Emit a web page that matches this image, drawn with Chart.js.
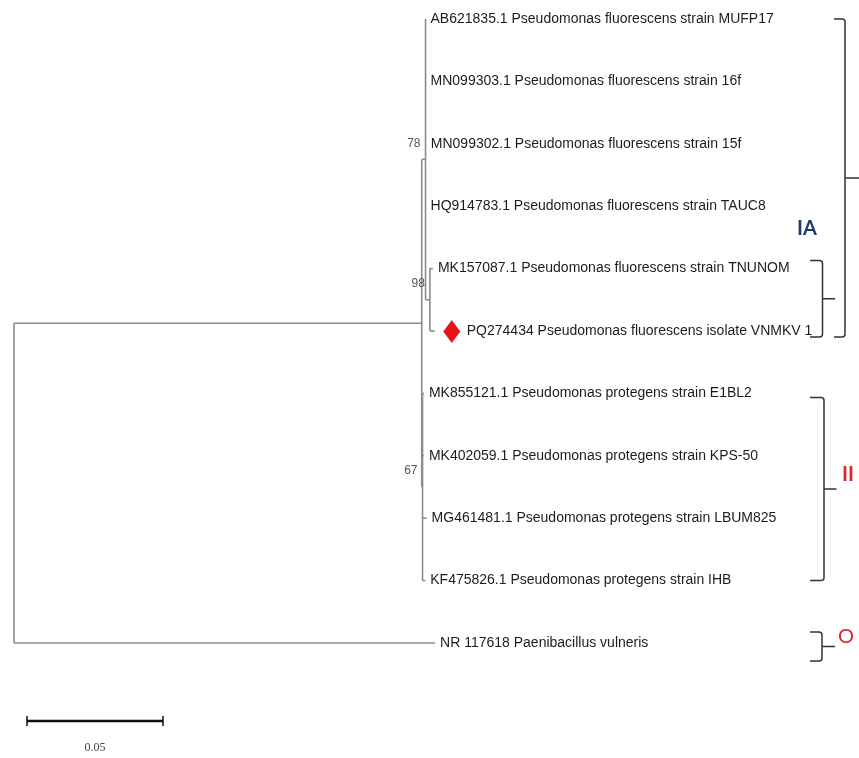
<!DOCTYPE html>
<html>
<head>
<meta charset="utf-8">
<script src="https://cdn.jsdelivr.net/npm/chart.js@4.4.1/dist/chart.umd.min.js"></script>
<style>
  html, body { margin: 0; padding: 0; background: #fff; }
  #wrap { width: 859px; height: 758px; }
</style>
</head>
<body>
<div id="wrap"><canvas id="tree" width="859" height="758"></canvas></div>
<script>
// tips, top to bottom
const tipLabels = [
  'AB621835.1 Pseudomonas fluorescens strain MUFP17',
  'MN099303.1 Pseudomonas fluorescens strain 16f',
  'MN099302.1 Pseudomonas fluorescens strain 15f',
  'HQ914783.1 Pseudomonas fluorescens strain TAUC8',
  'MK157087.1 Pseudomonas fluorescens strain TNUNOM',
  'PQ274434 Pseudomonas fluorescens isolate VNMKV 1',
  'MK855121.1 Pseudomonas protegens strain E1BL2',
  'MK402059.1 Pseudomonas protegens strain KPS-50',
  'MG461481.1 Pseudomonas protegens strain LBUM825',
  'KF475826.1 Pseudomonas protegens strain IHB',
  'NR 117618 Paenibacillus vulneris'
];
const tipParent = ['n78', 'n78', 'n78', 'n78', 'n98', 'n98', 'n67', 'n67', 'n67', 'n67', 'root'];
const tipBranch = [0, 0, 0.0001, 0, 0.0011, 0.0018, 0.0005, 0.0005, 0.0015, 0.001, 0.1548];
const markedTip = 5; // our isolate, red diamond

// internal nodes (parents listed before children)
const nodeNames = ['root', 'ingroup', 'n78', 'n98', 'n67'];
const nodeParent = [null, 'root', 'ingroup', 'n78', 'ingroup'];
const nodeBranch = [0, 0.1499, 0.0014, 0.0016, 0.0003];
const nodeSupport = ['', '', '78', '98', '67'];

const scaleBarValue = 0.05;

// clade brackets on the right
const groupLabels = ['IA', '', 'II', 'O'];
const groupFrom = [0, 4, 6, 10];
const groupTo = [5, 5, 9, 10];

// ---- tree layout in data units ----
const nodeX = {};
nodeNames.forEach((n, i) => {
  const p = nodeParent[i];
  nodeX[n] = (p ? nodeX[p] : 0) + nodeBranch[i];
});
const tipX = tipParent.map((p, i) => nodeX[p] + tipBranch[i]);

function childYs(n) {
  const ys = [];
  tipParent.forEach((p, i) => { if (p === n) ys.push(i); });
  nodeNames.forEach((m, i) => { if (nodeParent[i] === n) ys.push(nodeY(m)); });
  return ys;
}
function nodeY(n) {
  const ys = childYs(n);
  return (Math.min(...ys) + Math.max(...ys)) / 2;
}

const segments = [];
tipLabels.forEach((_, i) => {
  segments.push([{ x: nodeX[tipParent[i]], y: i }, { x: tipX[i], y: i }]);
});
nodeNames.forEach((n, i) => {
  const ys = childYs(n);
  segments.push([{ x: nodeX[n], y: Math.min(...ys) }, { x: nodeX[n], y: Math.max(...ys) }]);
  if (nodeParent[i]) {
    const y = nodeY(n);
    segments.push([{ x: nodeX[nodeParent[i]], y: y }, { x: nodeX[n], y: y }]);
  }
});

const branchColor = '#8c8c8c';

const datasets = segments.map(seg => ({
  data: seg,
  showLine: true,
  borderColor: branchColor,
  borderWidth: 1.6,
  pointRadius: 0,
  fill: false
}));

// bracket geometry in pixels: [vertical x, left hook x, tick end x, extra above first tip, extra below last tip]
const bracketStyle = [
  [845, 834, 859, 0, 6],
  [822.5, 810, 835, 8, 6],
  [824, 810, 836.5, -4, 0],
  [822, 810, 835, 11, 18]
];
const labelStyle = [
  { x: 807, y: 229, color: '#1f3a73', font: 'bold 20px Lato, "Open Sans", sans-serif' },
  null,
  { x: 848, y: 475, color: '#e0232c', font: 'bold 20px Lato, "Open Sans", sans-serif' },
  { x: 846, y: 637, color: '#e0232c', font: '20px Lato, "Open Sans", sans-serif' }
];

const treeDecor = {
  id: 'treeDecor',
  afterDatasetsDraw(chart) {
    const ctx = chart.ctx;
    const xs = chart.scales.x;
    const ys = chart.scales.y;
    ctx.save();

    // tip labels
    ctx.font = '14px "Liberation Sans", Arial, sans-serif';
    ctx.fillStyle = '#1c1c1c';
    ctx.textBaseline = 'middle';
    ctx.textAlign = 'left';
    tipLabels.forEach((label, i) => {
      const px = xs.getPixelForValue(tipX[i]);
      const py = ys.getPixelForValue(i);
      let tx = px + 5;
      if (i === markedTip) {
        const cx = px + 17;
        ctx.fillStyle = '#e8141c';
        ctx.beginPath();
        ctx.moveTo(cx, py - 11);
        ctx.lineTo(cx + 8.5, py + 0.5);
        ctx.lineTo(cx, py + 12);
        ctx.lineTo(cx - 8.5, py + 0.5);
        ctx.closePath();
        ctx.fill();
        ctx.fillStyle = '#1c1c1c';
        tx = px + 32;
      }
      ctx.fillText(label, tx, py);
    });

    // bootstrap values
    ctx.font = '12px "Liberation Sans", Arial, sans-serif';
    ctx.fillStyle = '#555';
    ctx.textAlign = 'right';
    nodeNames.forEach((n, i) => {
      if (!nodeSupport[i]) return;
      const px = xs.getPixelForValue(nodeX[n]);
      const py = ys.getPixelForValue(nodeY(n));
      ctx.fillText(nodeSupport[i], px - 5, py - 16);
    });

    // scale bar
    const x0 = 27, yBar = 721;
    const barLen = xs.getPixelForValue(scaleBarValue) - xs.getPixelForValue(0);
    ctx.strokeStyle = '#111';
    ctx.lineWidth = 2.5;
    ctx.beginPath();
    ctx.moveTo(x0, yBar); ctx.lineTo(x0 + barLen, yBar);
    ctx.stroke();
    ctx.lineWidth = 1.5;
    ctx.beginPath();
    ctx.moveTo(x0, yBar - 5); ctx.lineTo(x0, yBar + 5);
    ctx.moveTo(x0 + barLen, yBar - 5); ctx.lineTo(x0 + barLen, yBar + 5);
    ctx.stroke();
    ctx.font = '12px "Liberation Serif", "Times New Roman", serif';
    ctx.fillStyle = '#444';
    ctx.textAlign = 'center';
    ctx.fillText(String(scaleBarValue), x0 + barLen / 2, 748);

    // clade brackets
    ctx.strokeStyle = '#333';
    ctx.lineWidth = 1.5;
    groupLabels.forEach((g, i) => {
      const [xv, xl, xt, padTop, padBot] = bracketStyle[i];
      const top = ys.getPixelForValue(groupFrom[i]) - padTop;
      const bot = ys.getPixelForValue(groupTo[i]) + padBot;
      const mid = (top + bot) / 2;
      const r = 3;
      ctx.beginPath();
      ctx.moveTo(xl, top);
      ctx.lineTo(xv - r, top);
      ctx.quadraticCurveTo(xv, top, xv, top + r);
      ctx.lineTo(xv, bot - r);
      ctx.quadraticCurveTo(xv, bot, xv - r, bot);
      ctx.lineTo(xl, bot);
      ctx.moveTo(xv, mid);
      ctx.lineTo(xt, mid);
      ctx.stroke();

      const ls = labelStyle[i];
      if (g && ls) {
        ctx.font = ls.font;
        ctx.fillStyle = ls.color;
        ctx.textAlign = 'center';
        ctx.textBaseline = 'middle';
        ctx.fillText(g, ls.x, ls.y);
      }
    });

    ctx.restore();
  }
};

new Chart(document.getElementById('tree').getContext('2d'), {
  type: 'scatter',
  data: { datasets },
  options: {
    responsive: false,
    animation: false,
    events: [],
    layout: { padding: 0 },
    plugins: {
      legend: { display: false },
      tooltip: { enabled: false }
    },
    scales: {
      // 0.05 substitutions per 136 px, root at 14 px
      x: { type: 'linear', display: false, min: -0.005147, max: 0.310662 },
      // tip rows 62.4 px apart, first at 19 px
      y: { type: 'linear', display: false, reverse: true, min: -0.3045, max: 11.8429 }
    }
  },
  plugins: [treeDecor]
});
</script>
</body>
</html>
